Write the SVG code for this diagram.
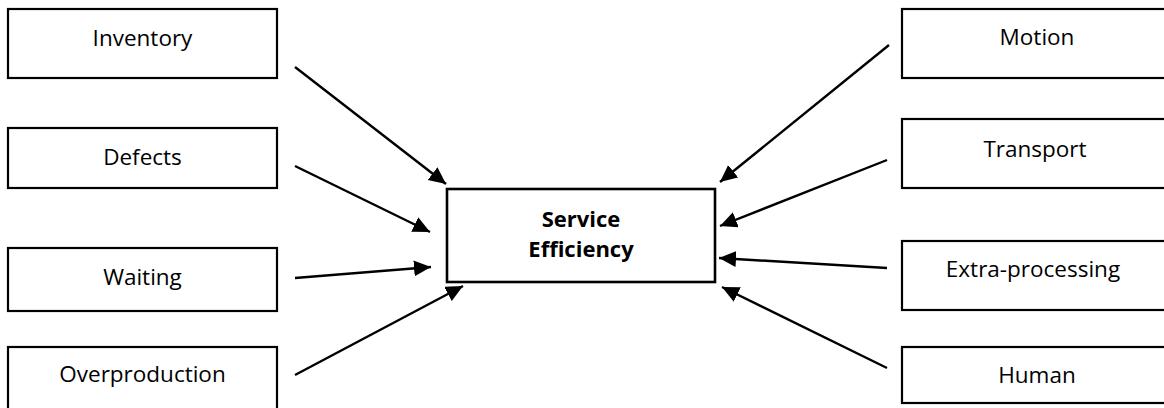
<svg xmlns="http://www.w3.org/2000/svg" width="1164" height="408" viewBox="0 0 1164 408">
  <style>
    .box { fill: #ffffff; stroke: #000000; stroke-width: 2.2; }
    .core { fill: #ffffff; stroke: #000000; stroke-width: 2.6; }
    .label { font-family: "Open Sans", "Liberation Sans", sans-serif; font-size: 22.5px; fill: #000000; text-anchor: middle; }
    .bold { font-weight: bold; font-size: 22px; }
    .link { stroke: #000000; stroke-width: 2.4; fill: none; marker-end: url(#head); }
  </style>
  <defs>
    <marker id="head" markerUnits="userSpaceOnUse" markerWidth="19" markerHeight="17" refX="17" refY="8" orient="auto">
      <path d="M0,0 L17,8 L0,16 z" fill="#000000"/>
    </marker>
  </defs>
  <rect width="1164" height="408" fill="#ffffff"/>

  <!-- waste categories, left column -->
  <g id="inventory">
    <rect class="box" x="8" y="9" width="269" height="69"/>
    <text class="label" x="142.5" y="46">Inventory</text>
  </g>
  <g id="defects">
    <rect class="box" x="8" y="128" width="269" height="60"/>
    <text class="label" x="142.5" y="165">Defects</text>
  </g>
  <g id="waiting">
    <rect class="box" x="8" y="248" width="269" height="63"/>
    <text class="label" x="142.5" y="285">Waiting</text>
  </g>
  <g id="overproduction">
    <rect class="box" x="8" y="347" width="269" height="70"/>
    <text class="label" x="142.5" y="382">Overproduction</text>
  </g>

  <!-- waste categories, right column -->
  <g id="motion">
    <rect class="box" x="902" y="9" width="270" height="69"/>
    <text class="label" x="1037" y="45">Motion</text>
  </g>
  <g id="transport">
    <rect class="box" x="902" y="119" width="270" height="69"/>
    <text class="label" x="1035" y="157">Transport</text>
  </g>
  <g id="extra-processing">
    <rect class="box" x="902" y="241" width="270" height="69"/>
    <text class="label" x="1033" y="277">Extra-processing</text>
  </g>
  <g id="human">
    <rect class="box" x="902" y="347" width="270" height="56"/>
    <text class="label" x="1037" y="383">Human</text>
  </g>

  <!-- central outcome -->
  <g id="service-efficiency">
    <rect class="core" x="447" y="189" width="268" height="93"/>
    <text class="label bold" x="581" y="227">Service</text>
    <text class="label bold" x="581" y="257">Efficiency</text>
  </g>

  <!-- arrows into the centre -->
  <g id="connectors">
    <line class="link" x1="295" y1="67" x2="446" y2="184"/>
    <line class="link" x1="295" y1="166" x2="430" y2="232"/>
    <line class="link" x1="295" y1="278" x2="431" y2="267"/>
    <line class="link" x1="295" y1="375" x2="463" y2="286"/>
    <line class="link" x1="889" y1="45" x2="720" y2="182"/>
    <line class="link" x1="887" y1="160" x2="720" y2="226"/>
    <line class="link" x1="887" y1="268" x2="719" y2="258"/>
    <line class="link" x1="887" y1="368" x2="722" y2="287"/>
  </g>
</svg>
